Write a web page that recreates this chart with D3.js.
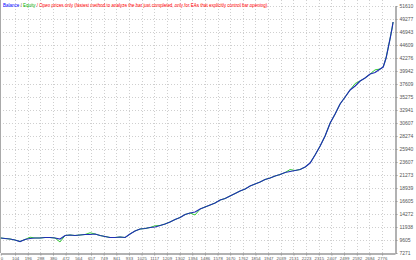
<!DOCTYPE html>
<html>
<head>
<meta charset="utf-8">
<script src="https://cdn.jsdelivr.net/npm/d3@7"></script>
<style>
  body { margin: 0; background: #fff; }
  svg { display: block; font-family: "Liberation Sans", Arial, sans-serif; }
</style>
</head>
<body>
<div id="graph"></div>
<script>
// trade numbers and account values
const trades = [0, 31, 67, 103, 140, 176, 213, 249, 286, 322, 358, 395, 431, 468, 504, 540, 577, 613, 650, 686,
    723, 759, 795, 832, 868, 905, 941, 977, 1014, 1050, 1087, 1123, 1160, 1196, 1232, 1269, 1305, 1342, 1378, 1414,
    1451, 1487, 1524, 1560, 1597, 1633, 1669, 1706, 1742, 1779, 1815, 1851, 1888, 1924, 1961, 1997, 2033, 2070, 2106, 2143,
    2179, 2216, 2252, 2288, 2325, 2361, 2398, 2434, 2470, 2507, 2543, 2580, 2616, 2652, 2689, 2725, 2762, 2784, 2805, 2820,
    2835, 2849, 2856];

const balance = [9964, 9874, 9784, 9605, 9335, 9694, 9874, 9964, 9964, 10053, 10053, 9964, 9784, 10412, 10502, 10412, 10502, 10592, 10592, 10682,
    10412, 10233, 10053, 10053, 10143, 10053, 10682, 11220, 11579, 11669, 11848, 11938, 12207, 12477, 12836, 13284, 13643, 14182, 14451, 14631,
    15169, 15528, 15887, 16246, 16785, 17054, 17503, 17951, 18400, 18759, 19298, 19657, 20016, 20464, 20734, 21093, 21362, 21721, 21900, 22080,
    22259, 22708, 23426, 24862, 26478, 28273, 30606, 32222, 34017, 35273, 36530, 37248, 38145, 38684, 39402, 39671, 40299, 40658, 42274, 44069,
    45864, 47659, 48736];

const equity = [9964, 9874, 9784, 9605, 9335, 9694, 10100, 9964, 9964, 10053, 10053, 9964, 9250, 10412, 10502, 10412, 10502, 10592, 10900, 10682,
    10412, 10233, 10053, 10053, 10143, 10053, 10682, 11220, 11579, 11669, 11848, 12150, 12207, 12477, 12836, 13284, 13643, 14182, 14451, 14100,
    15169, 15528, 15887, 16246, 16785, 17054, 17503, 17951, 18400, 18759, 19298, 19657, 20016, 20464, 20734, 21093, 21362, 21721, 22250, 22080,
    22259, 22708, 23426, 24862, 26478, 28273, 30606, 32222, 34017, 35273, 36530, 37700, 38145, 38684, 39402, 40150, 40299, 40658, 42274, 44069,
    45864, 47659, 48736];

const yTicks = [7271, 9605, 11938, 14272, 16605, 18939, 21273, 23607, 25940, 28274,
    30607, 32941, 35275, 37609, 39942, 42276, 44609, 46943, 49277, 51610];

const xTicks = [0, 104, 196, 288, 380, 472, 564, 657, 749, 841, 933, 1025, 1117, 1209, 1302, 1394,
    1486, 1578, 1670, 1762, 1854, 1947, 2039, 2131, 2223, 2315, 2407, 2499, 2592, 2684, 2776];

const W = 416, H = 260;
const plot = { left: 0.8, right: 395, top: 6, bottom: 253 };

let svg = d3.select("#graph")
    .append("svg")
    .attr("width", W)
    .attr("height", H);

let x = d3.scaleLinear()
    .domain([0, 2870])
    .range([plot.left, plot.right]);

let y = d3.scaleLinear()
    .domain([7271, 51610])
    .range([plot.bottom, plot.top]);

// dotted grid
svg.append("g")
    .selectAll("line")
    .data(yTicks.slice(1))
    .enter()
    .append("line")
    .attr("x1", 0)
    .attr("x2", plot.right)
    .attr("y1", (d) => Math.round(y(d)) + 0.5)
    .attr("y2", (d) => Math.round(y(d)) + 0.5)
    .attr("stroke", "#cfcfcf")
    .attr("stroke-dasharray", "1,2");

svg.append("g")
    .selectAll("line")
    .data(xTicks.slice(1))
    .enter()
    .append("line")
    .attr("x1", (d) => Math.round(x(d)) + 0.5)
    .attr("x2", (d) => Math.round(x(d)) + 0.5)
    .attr("y1", 0)
    .attr("y2", plot.bottom)
    .attr("stroke", "#cfcfcf")
    .attr("stroke-dasharray", "1,2");

// right axis
let yAxis = svg.append("g")
    .attr("transform", "translate(" + (plot.right + 0.5) + ",0)")
    .call(d3.axisRight(y).tickValues(yTicks).tickFormat(d3.format("d"))
        .tickSize(2).tickSizeOuter(0).tickPadding(2));

// bottom axis
let xAxis = svg.append("g")
    .attr("transform", "translate(0," + (plot.bottom + 0.5) + ")")
    .call(d3.axisBottom(x).tickValues(xTicks).tickFormat(d3.format("d"))
        .tickSize(2).tickSizeOuter(0).tickPadding(1));

[yAxis, xAxis].forEach((g) => {
    g.select(".domain").attr("stroke", "#999").attr("stroke-width", 1.5);
    g.selectAll(".tick line").attr("stroke", "#999");
    g.selectAll("text")
        .attr("fill", "#555")
        .attr("font-family", "'Liberation Sans', Arial, sans-serif");
});
yAxis.selectAll("text").attr("font-size", "5px");
xAxis.selectAll("text").attr("font-size", "4.3px");
xAxis.selectAll(".tick")
    .filter((d) => d === 0)
    .select("text")
    .attr("text-anchor", "start")
    .attr("x", -0.5);

// left frame line
svg.append("line")
    .attr("x1", 0.5).attr("x2", 0.5)
    .attr("y1", 0).attr("y2", plot.bottom)
    .attr("stroke", "#aaa");

let line = (vals) => d3.line()
    .x((d, i) => x(trades[i]))
    .y((d) => y(d))(vals);

// equity underneath, balance on top
svg.append("path")
    .attr("d", line(equity))
    .attr("fill", "none")
    .attr("stroke", "#33cc33")
    .attr("stroke-width", 1);

svg.append("path")
    .attr("d", line(balance))
    .attr("fill", "none")
    .attr("stroke", "#1f2fb4")
    .attr("stroke-width", 1.2);

// header text
let title = svg.append("text")
    .attr("transform", "translate(3,7) scale(0.9,1)")
    .attr("font-size", "5px");
title.append("tspan").attr("fill", "#0000ff").text("Balance");
title.append("tspan").attr("fill", "#444").text(" / ");
title.append("tspan").attr("fill", "#00b000").text("Equity");
title.append("tspan").attr("fill", "#ff0000")
    .text(" / Open prices only (fastest method to analyze the bar just completed, only for EAs that explicitly control bar opening)");
</script>
</body>
</html>
